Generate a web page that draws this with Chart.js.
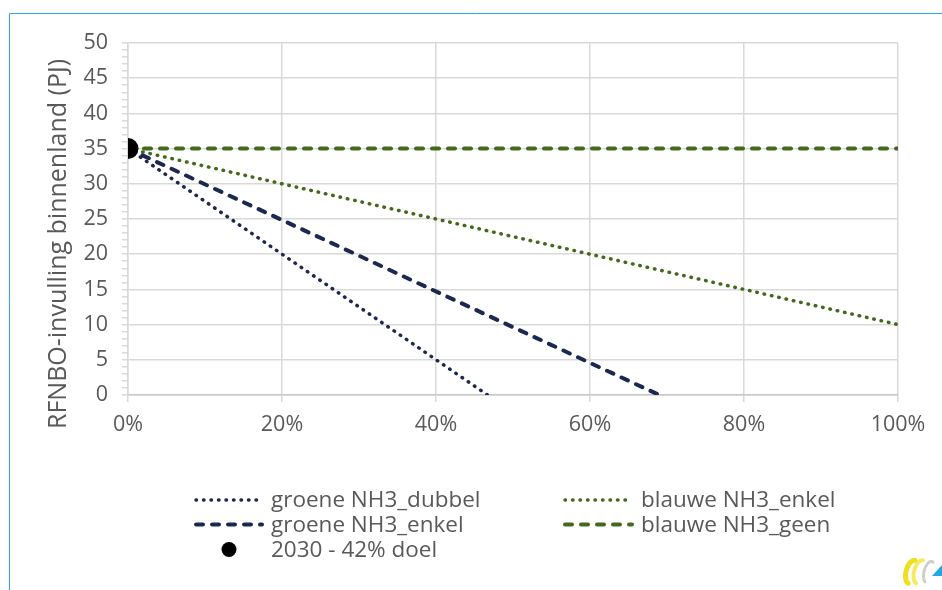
<!DOCTYPE html>
<html>
<head>
<meta charset="utf-8">
<script src="https://cdn.jsdelivr.net/npm/chart.js@4"></script>
<style>
  html, body { margin: 0; padding: 0; background: #fff; }
  #wrap { position: relative; width: 942px; height: 590px; }
</style>
</head>
<body>
<div id="wrap"><canvas id="chart"></canvas></div>
<script>
// aandeel (x, %) tegen RFNBO-invulling (y, PJ) per scenario
const seriesNames = ['groene NH3_dubbel', 'groene NH3_enkel', 'blauwe NH3_enkel', 'blauwe NH3_geen'];
const groenDubbelX = [0, 46.7];
const groenDubbelY = [35, 0];
const groenEnkelX = [0, 69];
const groenEnkelY = [35, 0];
const blauwEnkelX = [0, 100];
const blauwEnkelY = [35, 10];
const blauwGeenX = [0, 100];
const blauwGeenY = [35, 35];
const doelLabel = '2030 - 42% doel';
const doelX = [0];
const doelY = [35];
const yTitle = 'RFNBO-invulling binnenland (PJ)';

const NAVY = '#1d2850';
const GREEN = '#43691b';
const TEXT = '#595959';
const GRID = '#d9d9d9';
const FONT = "'Open Sans', sans-serif";

const pts = (xs, ys) => xs.map((x, i) => ({ x, y: ys[i] }));
const dotted = [0.5, 7];
const dashed = [7, 9];

function lineSet(label, xs, ys, color, dash, width) {
  return {
    label,
    data: pts(xs, ys),
    borderColor: color,
    backgroundColor: color,
    borderWidth: width,
    borderDash: dash,
    borderCapStyle: 'round',
    pointRadius: 0,
    fill: false,
    tension: 0
  };
}

// kader links en boven
const framePlugin = {
  id: 'frame',
  beforeDraw(chart) {
    const ctx = chart.ctx;
    ctx.save();
    ctx.strokeStyle = '#2ba8df';
    ctx.lineWidth = 1;
    ctx.beginPath();
    ctx.moveTo(9.5, chart.height + 2);
    ctx.lineTo(9.5, 13.5);
    ctx.lineTo(chart.width + 2, 13.5);
    ctx.stroke();
    ctx.restore();
  }
};

// y-as titel, iets onder het midden van de as
const yTitlePlugin = {
  id: 'yTitle',
  afterDraw(chart) {
    const ctx = chart.ctx;
    ctx.save();
    ctx.translate(59, 244);
    ctx.rotate(-Math.PI / 2);
    ctx.font = "25px " + FONT;
    ctx.fillStyle = TEXT;
    ctx.textAlign = 'center';
    ctx.textBaseline = 'middle';
    ctx.fillText(yTitle, 0, 0);
    ctx.restore();
  }
};

// legenda in twee kolommen onder de grafiek
const legendPlugin = {
  id: 'legend2col',
  afterDraw(chart) {
    const ctx = chart.ctx;
    const cols = [{ x0: 196, x1: 262, tx: 271 }, { x0: 565, x1: 632, tx: 641 }];
    const rows = [500, 524.5, 549.5];
    const layout = [
      { ds: 1, col: 0, row: 0 },
      { ds: 3, col: 1, row: 0 },
      { ds: 2, col: 0, row: 1 },
      { ds: 4, col: 1, row: 1 },
      { ds: 0, col: 0, row: 2 }
    ];
    ctx.save();
    ctx.font = "22.5px " + FONT;
    ctx.textBaseline = 'middle';
    layout.forEach(item => {
      const d = chart.data.datasets[item.ds];
      const c = cols[item.col];
      const y = rows[item.row];
      if (d.showLine === false) {
        ctx.fillStyle = d.backgroundColor;
        ctx.beginPath();
        ctx.arc((c.x0 + c.x1) / 2, y, 7.5, 0, Math.PI * 2);
        ctx.fill();
      } else {
        ctx.strokeStyle = d.borderColor;
        ctx.lineWidth = d.borderWidth;
        ctx.lineCap = 'round';
        ctx.setLineDash(d.borderDash);
        ctx.beginPath();
        ctx.moveTo(c.x0, y);
        ctx.lineTo(c.x1, y);
        ctx.stroke();
        ctx.setLineDash([]);
      }
      ctx.fillStyle = TEXT;
      ctx.fillText(d.label, c.tx, y + 1);
    });
    ctx.restore();
  }
};

// beeldmerk rechtsonder
const logoPlugin = {
  id: 'logo',
  afterDraw(chart) {
    const ctx = chart.ctx;
    ctx.save();
    ctx.lineCap = 'round';
    ctx.strokeStyle = '#f1df1f';
    ctx.lineWidth = 5;
    ctx.beginPath();
    ctx.ellipse(912, 572, 6, 12, 0.25, Math.PI * 0.55, Math.PI * 1.5);
    ctx.stroke();
    ctx.strokeStyle = '#f6ea63';
    ctx.lineWidth = 4;
    ctx.beginPath();
    ctx.ellipse(920, 572, 6, 12, 0.25, Math.PI * 0.55, Math.PI * 1.5);
    ctx.stroke();
    ctx.strokeStyle = '#cfcfcf';
    ctx.lineWidth = 3;
    ctx.beginPath();
    ctx.ellipse(929, 572, 5, 11, 0.25, Math.PI * 0.6, Math.PI * 1.6);
    ctx.stroke();
    ctx.fillStyle = '#1ea6e6';
    ctx.beginPath();
    ctx.moveTo(942, 565);
    ctx.lineTo(942, 576);
    ctx.lineTo(932, 576);
    ctx.closePath();
    ctx.fill();
    ctx.restore();
  }
};

const tickFont = { family: FONT, size: 21.5 };

new Chart(document.getElementById('chart'), {
  type: 'line',
  data: {
    datasets: [
      {
        label: doelLabel,
        data: pts(doelX, doelY),
        showLine: false,
        pointRadius: 10.5,
        pointBackgroundColor: '#000',
        pointBorderWidth: 0,
        backgroundColor: '#000',
        borderColor: '#000'
      },
      lineSet(seriesNames[0], groenDubbelX, groenDubbelY, NAVY, dotted, 3.5),
      lineSet(seriesNames[1], groenEnkelX, groenEnkelY, NAVY, dashed, 4),
      lineSet(seriesNames[2], blauwEnkelX, blauwEnkelY, GREEN, dotted, 3.5),
      lineSet(seriesNames[3], blauwGeenX, blauwGeenY, GREEN, dashed, 4)
    ]
  },
  options: {
    responsive: true,
    maintainAspectRatio: false,
    animation: false,
    layout: { padding: { left: 0, top: 43, right: 44, bottom: 150 } },
    plugins: {
      legend: { display: false },
      tooltip: { enabled: false }
    },
    scales: {
      x: {
        type: 'linear',
        min: 0,
        max: 100,
        ticks: {
          stepSize: 20,
          color: TEXT,
          font: tickFont,
          padding: 10,
          callback: v => v + '%'
        },
        grid: { color: GRID, lineWidth: 1.5, tickLength: 7, tickColor: GRID },
        border: { color: '#c8c8c8', width: 1.5 },
        afterFit: s => { s.height = 45; }
      },
      y: {
        min: 0,
        max: 50,
        ticks: {
          stepSize: 1,
          autoSkip: false,
          color: TEXT,
          font: tickFont,
          padding: 14,
          callback: v => (v % 5 === 0 ? v : '')
        },
        grid: {
          color: c => (c.tick && c.tick.value % 5 === 0 ? GRID : 'rgba(0,0,0,0)'),
          lineWidth: 1.5,
          tickLength: 6,
          tickColor: GRID
        },
        border: { color: GRID, width: 1.5 },
        afterFit: s => { s.width = 128; }
      }
    }
  },
  plugins: [framePlugin, yTitlePlugin, legendPlugin, logoPlugin]
});
</script>
</body>
</html>
